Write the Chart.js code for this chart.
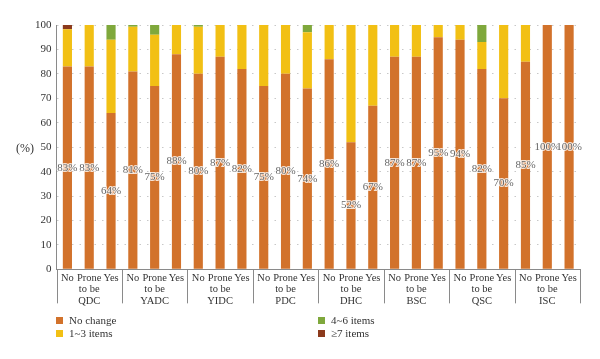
<!DOCTYPE html>
<html>
<head>
<meta charset="utf-8">
<script src="https://cdn.jsdelivr.net/npm/chart.js@4/dist/chart.umd.min.js"></script>
<style>
  body { margin: 0; background: #fff; }
  #wrap { position: relative; width: 600px; height: 359px; }
  #legend { position: absolute; left: 56px; top: 314px; width: 520px;
    display: grid; grid-template-columns: 262px 200px; row-gap: 1px;
    font: 11px "Liberation Serif", serif; color: #333; }
  #legend span.box { display: inline-block; width: 7px; height: 7px; margin-right: 6px; vertical-align: 0px; }
</style>
</head>
<body>
<div id="wrap">
  <canvas id="myChart" width="600" height="359"></canvas>
  <div id="legend"></div>
</div>
<script>
const groups = ["QDC", "YADC", "YIDC", "PDC", "DHC", "BSC", "QSC", "ISC"];
const subLabels = [["No"], ["Prone", "to be"], ["Yes"]];
const seriesNames = ["No change", "1~3 items", "4~6 items", "\u22657 items"];
const noChange = [83, 83, 64, 81, 75, 88, 80, 87, 82, 75, 80, 74, 86, 52, 67, 87, 87, 95, 94, 82, 70, 85, 100, 100];
const items1to3 = [15.3, 17, 30, 18.3, 21, 12, 19.3, 13, 18, 25, 20, 23, 14, 48, 33, 13, 13, 5, 6, 11, 30, 15, 0, 0];
const items4to6 = [0, 0, 6, 0.7, 4, 0, 0.7, 0, 0, 0, 0, 3, 0, 0, 0, 0, 0, 0, 0, 7, 0, 0, 0, 0];
const items7plus = [1.7, 0, 0, 0, 0, 0, 0, 0, 0, 0, 0, 0, 0, 0, 0, 0, 0, 0, 0, 0, 0, 0, 0, 0];
const yTicks = [0, 10, 20, 30, 40, 50, 60, 70, 80, 90, 100];

const colors = ["#d2722b", "#f2c014", "#7fa83c", "#8c3a1c"];
const serif = '"Liberation Serif", serif';

// x labels: middle bar of each group carries the group name on a third line
let labels = [];
groups.forEach((g) => {
  subLabels.forEach((s, i) => {
    labels.push(i === 1 ? s.concat([g]) : s);
  });
});

const ctx = document.getElementById("myChart");

const pctLabels = {
  id: "pctLabels",
  afterDatasetsDraw(chart) {
    const c = chart.ctx;
    const meta = chart.getDatasetMeta(0);
    c.save();
    c.font = "11px " + serif;
    c.textAlign = "center";
    c.textBaseline = "middle";
    meta.data.forEach((bar, i) => {
      const txt = Math.round(noChange[i]) + "%";
      const y = (bar.y + bar.base) / 2;
      c.lineWidth = 2;
      c.strokeStyle = "rgba(255,255,255,0.8)";
      c.strokeText(txt, bar.x, y);
      c.fillStyle = "#666";
      c.fillText(txt, bar.x, y);
    });
    c.restore();
  }
};

// y title + group separators under the x axis
const extras = {
  id: "extras",
  afterDraw(chart) {
    const c = chart.ctx;
    const y = chart.scales.y;
    const x = chart.scales.x;
    c.save();
    c.font = "12px " + serif;
    c.fillStyle = "#333";
    c.textAlign = "center";
    c.textBaseline = "middle";
    c.fillText("(%)", 25, (y.top + y.bottom) / 2 + 2);
    c.strokeStyle = "#8a8a8a";
    c.lineWidth = 1;
    for (let i = 0; i <= labels.length; i += 3) {
      const px = Math.round(x.getPixelForValue(i - 0.5)) + 0.5;
      c.beginPath();
      c.moveTo(px, x.top);
      c.lineTo(px, x.top + 34);
      c.stroke();
    }
    c.restore();
  }
};

let chart = new Chart(ctx, {
  type: "bar",
  data: {
    labels: labels,
    datasets: [
      { label: seriesNames[0], data: noChange, backgroundColor: colors[0] },
      { label: seriesNames[1], data: items1to3, backgroundColor: colors[1] },
      { label: seriesNames[2], data: items4to6, backgroundColor: colors[2] },
      { label: seriesNames[3], data: items7plus, backgroundColor: colors[3] }
    ]
  },
  options: {
    responsive: false,
    animation: false,
    layout: { padding: { left: 30, right: 20, top: 25, bottom: 49 } },
    datasets: { bar: { categoryPercentage: 1, barPercentage: 0.42 } },
    plugins: { legend: { display: false }, tooltip: { enabled: false } },
    scales: {
      x: {
        stacked: true,
        grid: { display: false, drawTicks: false },
        border: { color: "#8a8a8a" },
        ticks: {
          autoSkip: false, maxRotation: 0, padding: 3,
          color: "#333", font: { family: serif, size: 10.5, lineHeight: 1.1 }
        }
      },
      y: {
        stacked: true,
        min: 0, max: 100,
        afterBuildTicks: (s) => { s.ticks = yTicks.map((v) => ({ value: v })); },
        grid: { color: "#c8c8c8", drawTicks: false },
        border: { color: "#8a8a8a", dash: [1.5, 6] },
        ticks: { padding: 5, color: "#333", font: { family: serif, size: 11 } }
      }
    }
  },
  plugins: [pctLabels, extras]
});

const legend = document.getElementById("legend");
const order = [0, 2, 1, 3];
order.forEach((i) => {
  const item = document.createElement("div");
  item.innerHTML = '<span class="box" style="background:' + colors[i] + '"></span>' + seriesNames[i];
  legend.appendChild(item);
});
</script>
</body>
</html>
